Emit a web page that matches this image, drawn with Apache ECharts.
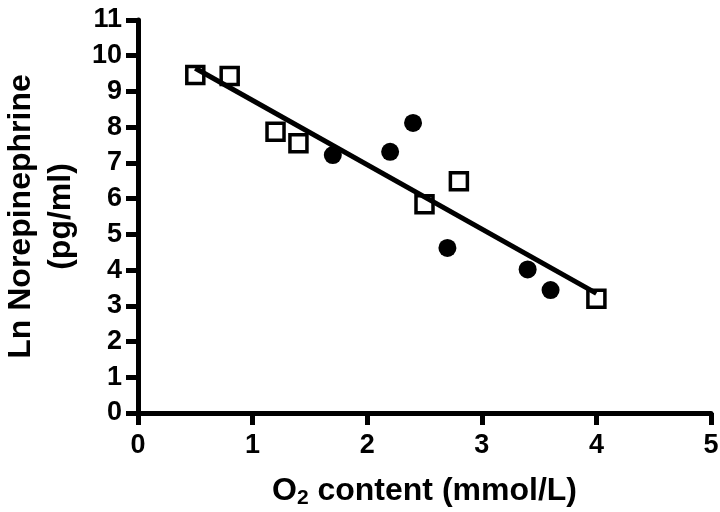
<!DOCTYPE html>
<html><head><meta charset="utf-8">
<script src="https://cdn.jsdelivr.net/npm/echarts@6/dist/echarts.min.js"></script>
<style>html,body{margin:0;padding:0;background:#fff}#c{width:720px;height:512px}</style>
</head><body><div id="c"></div>
<script>
var squareX = [0.5, 0.8, 1.2, 1.4, 2.5, 2.8, 4.0];
var squareY = [9.46, 9.43, 7.87, 7.55, 5.84, 6.49, 3.2];
var circleX = [1.7, 2.2, 2.4, 2.7, 3.4, 3.6];
var circleY = [7.22, 7.31, 8.12, 4.62, 4.02, 3.44];
var fitX = [0.5, 4.0];
var fitY = [9.65, 3.35];
var xTicks = [0, 1, 2, 3, 4, 5];
var yTicks = [0,1,2,3,4,5,6,7,8,9,10,11];

function pairs(xs, ys){ return xs.map(function(x,i){return [x, ys[i]];}); }

var chart = echarts.init(document.getElementById('c'));
var font = 'Liberation Sans, Arial, sans-serif';
chart.setOption({
  animation: false,
  backgroundColor: '#fff',
  grid: {left: 138, right: 9, top: 20, bottom: 99, containLabel: false, outerBoundsMode: 'none'},
  xAxis: {
    type: 'value', min: xTicks[0], max: xTicks[xTicks.length-1], interval: 1,
    axisLine: {show: true, lineStyle: {color: '#000', width: 5}},
    axisTick: {show: true, length: 12, lineStyle: {color: '#000', width: 5}},
    splitLine: {show: false},
    axisLabel: {color: '#000', fontSize: 27, fontWeight: 'bold', fontFamily: font, margin: 19},
    name: '{a|O}{s|2}{a| content (mmol/L)}',
    nameLocation: 'middle', nameGap: 60,
    nameTextStyle: {
      rich: {
        a: {fontSize: 32, lineHeight: 36, fontWeight: 'bold', fontFamily: font, color: '#000'},
        s: {fontSize: 21, lineHeight: 21, fontWeight: 'bold', fontFamily: font, color: '#000', verticalAlign: 'bottom'}
      }
    }
  },
  yAxis: {
    type: 'value', min: yTicks[0], max: yTicks[yTicks.length-1], interval: 1,
    axisLine: {show: true, lineStyle: {color: '#000', width: 5}},
    axisTick: {show: true, length: 12, lineStyle: {color: '#000', width: 5}},
    splitLine: {show: false},
    axisLabel: {color: '#000', fontSize: 27, fontWeight: 'bold', fontFamily: font, margin: 16},
    name: 'Ln Norepinephrine\n(pg/ml)',
    nameLocation: 'middle', nameGap: 56, nameRotate: 90,
    nameTextStyle: {fontSize: 32, fontWeight: 'bold', fontFamily: font, color: '#000', lineHeight: 40, align: 'center'}
  },
  series: [
    {
      type: 'scatter', data: pairs(squareX, squareY), symbol: 'rect', symbolSize: 17,
      itemStyle: {color: '#fff', borderColor: '#000', borderWidth: 3.5, opacity: 1}, z: 2
    },
    {
      type: 'scatter', data: pairs(circleX, circleY), symbol: 'circle', symbolSize: 18,
      itemStyle: {color: '#000', opacity: 1}, z: 2
    },
    {
      type: 'line', data: pairs(fitX, fitY), symbol: 'none',
      lineStyle: {color: '#000', width: 5}, z: 3
    }
  ]
});
</script></body></html>
